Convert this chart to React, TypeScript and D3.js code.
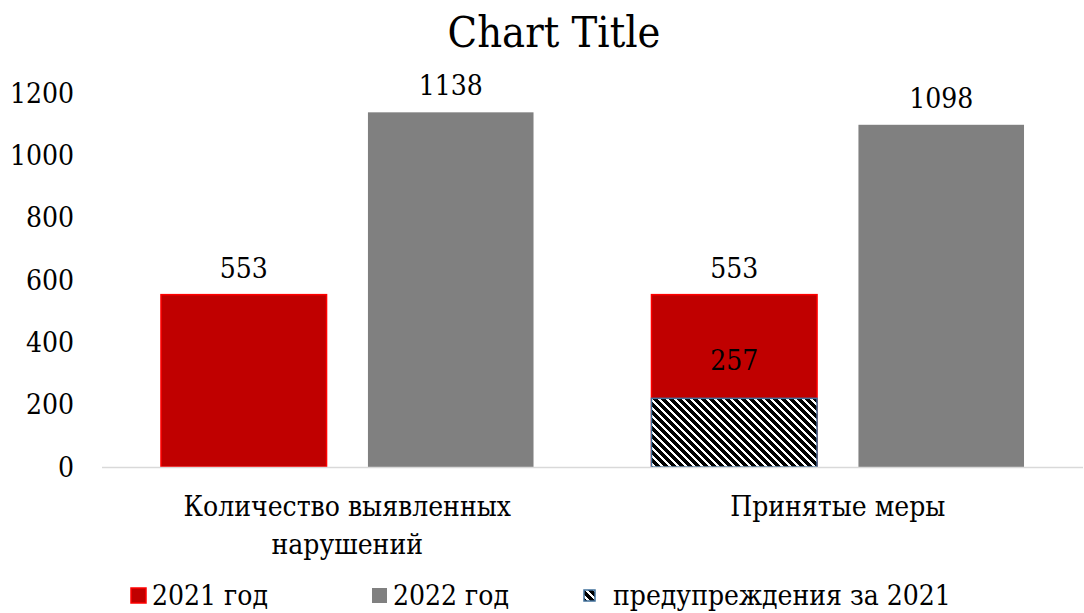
import React, { useRef, useLayoutEffect } from 'react';
import * as d3 from 'd3';

const categories = ['Количество выявленных нарушений', 'Принятые меры'];
const categoryLines = [['Количество выявленных', 'нарушений'], ['Принятые меры']];
const seriesNames = ['2021 год', '2022 год'];
const values2021 = [553, 553];
const values2022 = [1138, 1098];
const warningName = 'предупреждения за 2021';
const warningValues = [257]; // on the secondary axis, second category only
const yTicks = [0, 200, 400, 600, 800, 1000, 1200];

const App = () => {
  const ref = useRef(null);
  const width = 1084;
  const height = 613;

  useLayoutEffect(() => {
    const svg = d3.select(ref.current);
    svg.selectAll('*').remove();
    const font = "'DejaVu Serif Condensed', 'DejaVu Serif', serif";
    const margin = { top: 93, right: 1, bottom: 146, left: 102 };

    const y = d3.scaleLinear().domain([0, 1200]).range([height - margin.bottom, margin.top]);
    const y2 = d3.scaleLinear().domain([0, 1400]).range([height - margin.bottom, margin.top]);
    const x0 = d3.scaleBand().domain(categories).range([margin.left, width - margin.right]);
    const x1 = d3
      .scaleBand()
      .domain(seriesNames)
      .range([0, x0.bandwidth()])
      .paddingInner(0.2)
      .paddingOuter(0.285);

    const txt = (sel: any, size: number) =>
      sel
        .style('font-family', font)
        .style('font-stretch', 'condensed')
        .attr('font-size', size)
        .attr('fill', '#000');

    const defs = svg.append('defs');
    const pat = defs
      .append('pattern')
      .attr('id', 'wdiag')
      .attr('patternUnits', 'userSpaceOnUse')
      .attr('width', 8)
      .attr('height', 8);
    pat.append('rect').attr('width', 8).attr('height', 8).attr('fill', '#fff');
    pat
      .append('path')
      .attr('d', 'M-2,-2 L10,10 M-2,6 L2,10 M6,-2 L10,2')
      .attr('stroke', '#000')
      .attr('stroke-width', 3)
      .attr('shape-rendering', 'crispEdges');

    // title
    svg
      .append('text')
      .text('Chart Title')
      .attr('x', 554)
      .attr('y', 47)
      .attr('text-anchor', 'middle')
      .call(txt, 43);

    // y tick labels
    svg
      .append('g')
      .selectAll('text')
      .data(yTicks)
      .enter()
      .append('text')
      .text((d) => d)
      .attr('x', 74)
      .attr('y', (d) => y(d))
      .attr('dy', '0.35em')
      .attr('text-anchor', 'end')
      .call(txt, 28);

    const bars = [
      { key: seriesNames[0], vals: values2021, fill: '#C00000', stroke: '#FF0000' },
      { key: seriesNames[1], vals: values2022, fill: '#808080', stroke: 'none' },
    ];

    bars.forEach((s) => {
      const g = svg.append('g');
      categories.forEach((c, i) => {
        const bx = (x0(c) as number) + (x1(s.key) as number);
        const v = s.vals[i];
        g.append('rect')
          .attr('x', bx)
          .attr('y', y(v))
          .attr('width', x1.bandwidth())
          .attr('height', y(0) - y(v))
          .attr('fill', s.fill)
          .attr('stroke', s.stroke)
          .attr('stroke-width', 1.5);
        g.append('text')
          .text(v)
          .attr('x', bx + x1.bandwidth() / 2)
          .attr('y', y(v) - 17)
          .attr('text-anchor', 'middle')
          .call(txt, 28);
      });
    });

    // warnings overlay on second category's 2021 bar (secondary axis)
    warningValues.forEach((v) => {
      const bx = (x0(categories[1]) as number) + (x1(seriesNames[0]) as number);
      svg
        .append('rect')
        .attr('x', bx)
        .attr('y', y2(v))
        .attr('width', x1.bandwidth())
        .attr('height', y2(0) - y2(v))
        .attr('fill', 'url(#wdiag)')
        .attr('stroke', '#41719C')
        .attr('stroke-width', 1.5);
      svg
        .append('text')
        .text(v)
        .attr('x', bx + x1.bandwidth() / 2)
        .attr('y', y(v) - 17)
        .attr('text-anchor', 'middle')
        .call(txt, 28);
    });

    // x axis line
    svg
      .append('line')
      .attr('x1', margin.left)
      .attr('x2', width - margin.right)
      .attr('y1', y(0) + 0.5)
      .attr('y2', y(0) + 0.5)
      .attr('stroke', '#D9D9D9')
      .attr('stroke-width', 1.5);

    // category labels
    categories.forEach((c, i) => {
      const t = svg.append('text').attr('text-anchor', 'middle').call(txt, 28);
      categoryLines[i].forEach((line, j) => {
        t.append('tspan')
          .text(line)
          .attr('x', (x0(c) as number) + x0.bandwidth() / 2)
          .attr('y', 516 + j * 38);
      });
    });

    // legend
    const lg = svg.append('g');
    lg.append('rect').attr('x', 131).attr('y', 588).attr('width', 15).attr('height', 15)
      .attr('fill', '#C00000').attr('stroke', '#FF0000').attr('stroke-width', 1.5);
    lg.append('text').text(seriesNames[0]).attr('x', 152).attr('y', 605).call(txt, 28);
    lg.append('rect').attr('x', 372).attr('y', 588).attr('width', 15).attr('height', 15)
      .attr('fill', '#808080');
    lg.append('text').text(seriesNames[1]).attr('x', 393).attr('y', 605).call(txt, 28);
    lg.append('rect').attr('x', 584).attr('y', 590).attr('width', 11).attr('height', 11)
      .attr('fill', 'url(#wdiag)').attr('stroke', '#41719C').attr('stroke-width', 1.5);
    lg.append('text').text(warningName).attr('x', 613).attr('y', 605).call(txt, 28);
  }, []);

  return (
    <div style={{ position: 'absolute', left: 0, top: 0, width, height, background: '#fff' }}>
      <svg ref={ref} width={width} height={height} />
    </div>
  );
};

export default App;
